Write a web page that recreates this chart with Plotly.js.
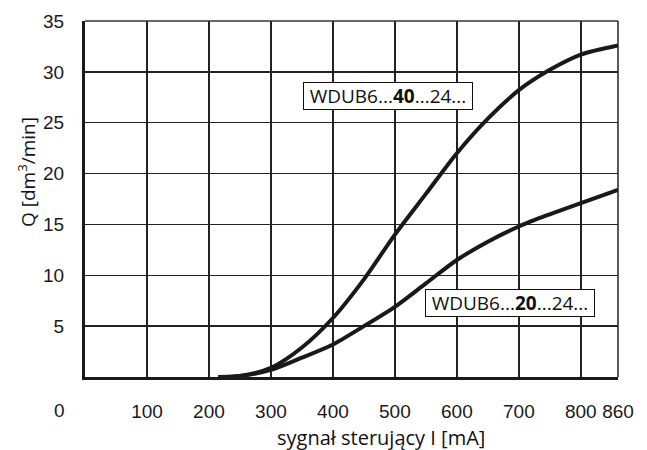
<!DOCTYPE html>
<html>
<head>
<meta charset="utf-8">
<script src="https://cdn.plot.ly/plotly-3.0.1.min.js"></script>
<style>html,body{margin:0;padding:0;background:#fff;}#chart{width:647px;height:450px;}</style>
</head>
<body>
<div id="chart"></div>
<script>
// Data
const signal = [215, 250, 300, 350, 400, 450, 500, 550, 600, 650, 700, 750, 800, 860];
const flow40 = [0, 0.1, 0.9, 2.9, 5.8, 9.6, 14.0, 18.0, 22.0, 25.4, 28.2, 30.2, 31.7, 32.6];
const flow20 = [0, 0.1, 0.7, 1.9, 3.2, 5.0, 6.9, 9.2, 11.5, 13.3, 14.8, 16.0, 17.1, 18.4];
const xTickVals = [100, 200, 300, 400, 500, 600, 700, 800, 860];
const xTickText = ['100', '200', '300', '400', '500', '600', '700', '800', '860'];
const yTickVals = [5, 10, 15, 20, 25, 30, 35];
const label40 = 'WDUB6...<b>40</b>...24...';
const label20 = 'WDUB6...<b>20</b>...24...';
const xTitle = 'sygnał sterujący I [mA]';
const yTitle = 'Q [dm<sup>3</sup>/min]';

const lineStyle = {color: '#1a1818', width: 4, shape: 'spline', smoothing: 0.8};
const traces = [
  {x: signal, y: flow40, mode: 'lines', line: lineStyle, hoverinfo: 'skip'},
  {x: signal, y: flow20, mode: 'lines', line: lineStyle, hoverinfo: 'skip'}
];

const W = 647, H = 450, ML = 85, MR = 29, MT = 21, MB = 73;
const px = (p) => (p - ML) / (W - ML - MR);
const py = (p) => (H - MB - p) / (H - MT - MB);

const tickFont = {family: 'Liberation Sans, Arial, sans-serif', size: 19, color: '#1a1a1a'};
const titleFont = {family: 'Open Sans, sans-serif', size: 20, color: '#111'};

const layout = {
  width: W, height: H,
  margin: {l: ML, r: MR, t: MT, b: MB},
  paper_bgcolor: '#fff', plot_bgcolor: '#fff',
  showlegend: false,
  xaxis: {
    range: [0, 860], tickmode: 'array', tickvals: xTickVals, ticktext: xTickText,
    showgrid: true, gridcolor: '#222', gridwidth: 1.5, zeroline: false,
    showline: true, linecolor: '#1a1a1a', linewidth: 3,
    ticks: '', ticklabelstandoff: 15, tickfont: tickFont,
    fixedrange: true
  },
  yaxis: {
    range: [0, 35], tickmode: 'array', tickvals: yTickVals,
    showgrid: true, gridcolor: '#222', gridwidth: 1.5, zeroline: false,
    showline: true, linecolor: '#1a1a1a', linewidth: 3,
    ticks: '', ticklabelstandoff: 14, tickfont: tickFont,
    fixedrange: true
  },
  shapes: [
    {type: 'line', xref: 'paper', yref: 'paper', x0: 0, x1: 1, y0: 1, y1: 1, line: {color: '#333', width: 1.5}},
    {type: 'line', xref: 'paper', yref: 'paper', x0: 1, x1: 1, y0: 0, y1: 1, line: {color: '#222', width: 1.5}}
  ],
  annotations: [
    {x: 489, y: 27.6, xref: 'x', yref: 'y', text: label40, showarrow: false,
     font: {family: 'Open Sans, sans-serif', size: 19, color: '#111'},
     bgcolor: '#fff', bordercolor: '#111', borderwidth: 1, borderpad: 2, width: 164, height: 22},
    {x: 686, y: 7.3, xref: 'x', yref: 'y', text: label20, showarrow: false,
     font: {family: 'Open Sans, sans-serif', size: 19, color: '#111'},
     bgcolor: '#fff', bordercolor: '#111', borderwidth: 1, borderpad: 2, width: 164, height: 22},
    {x: px(67), y: py(410), xref: 'paper', yref: 'paper', text: '0', showarrow: false,
     xanchor: 'right', yanchor: 'middle', font: tickFont},
    {x: px(381), y: py(437), xref: 'paper', yref: 'paper', text: xTitle, showarrow: false,
     xanchor: 'center', yanchor: 'middle', font: titleFont},
    {x: px(27), y: py(172), xref: 'paper', yref: 'paper', text: yTitle, showarrow: false,
     textangle: -90, xanchor: 'center', yanchor: 'middle', font: {family: 'Open Sans, sans-serif', size: 19, color: '#111'}}
  ]
};

Plotly.newPlot('chart', traces, layout, {displayModeBar: false, staticPlot: true});
</script>
</body>
</html>
